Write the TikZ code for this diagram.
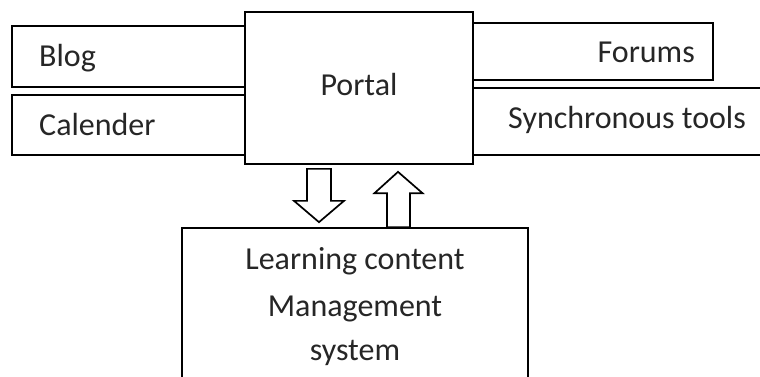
\documentclass[tikz,border=0pt]{standalone}
\usepackage{fontspec}
\setmainfont{Carlito}
\usetikzlibrary{calc}
\begin{document}
\begin{tikzpicture}[x=1pt,y=-1pt,
  box/.style={draw=black, line width=1.7pt, fill=white, rectangle, inner sep=0pt},
  txt/.style={inner sep=0pt, text=black!85, font=\fontsize{32}{38}\selectfont},
  blockarrow/.style={draw=black, line width=1.7pt, fill=white, line join=miter}]
\useasboundingbox (0,0) rectangle (760,376);
\clip (0,0) rectangle (760,376);
% side boxes
\node[box, minimum width=233pt, minimum height=61pt] (blog) at (128.5,56.5) {};
\node[box, minimum width=233pt, minimum height=60pt] (cal) at (128.5,125) {};
\node[box, minimum width=240pt, minimum height=57pt] (forums) at (593,51.5) {};
\node[box, minimum width=297pt, minimum height=67pt] (sync) at (621.5,121.5) {};
% portal
\node[box, minimum width=228pt, minimum height=152pt] (portal) at (359,88) {};
% LCMS
\node[box, minimum width=346pt, minimum height=160pt] (lcms) at (355,308) {};
% texts
\node[txt, anchor=base west] (tblog) at (39,66) {Blog};
\node[txt, anchor=base west] (tcal) at (39,135) {Calender};
\node[txt, anchor=base] (tportal) at (359,95) {Portal};
\node[txt, anchor=base east] (tforums) at (695,62) {Forums};
\node[txt, anchor=base west] (tsync) at (508,128) {Synchronous tools};
\node[txt, anchor=base] (tl1) at (355,269) {Learning content};
\node[txt, anchor=base] (tl2) at (355,316) {Management};
\node[txt, anchor=base] (tl3) at (355,360) {system};
% block arrow down (portal -> lcms)
\coordinate (dtop) at ($(portal.south)+(-40,4)$);
\coordinate (dtip) at ($(lcms.north)+(-36,-5)$);
\draw[blockarrow] ($(dtop)+(-12,0)$) -- ($(dtop)+(12,0)$) -- ($(dtop)+(12,32)$) -- ($(dtop)+(25,32)$)
  -- (dtip) -- ($(dtop)+(-25,32)$) -- ($(dtop)+(-12,32)$) -- cycle;
% block arrow up (lcms -> portal)
\coordinate (ubot) at ($(lcms.north)+(43.5,0)$);
\coordinate (utip) at ($(portal.south)+(39,7)$);
\draw[blockarrow] ($(ubot)+(-11.5,0)$) -- ($(ubot)+(-11.5,-34)$) -- ($(ubot)+(-24,-34)$) -- (utip)
  -- ($(ubot)+(24,-34)$) -- ($(ubot)+(11.5,-34)$) -- ($(ubot)+(11.5,0)$) -- cycle;
\end{tikzpicture}
\end{document}
